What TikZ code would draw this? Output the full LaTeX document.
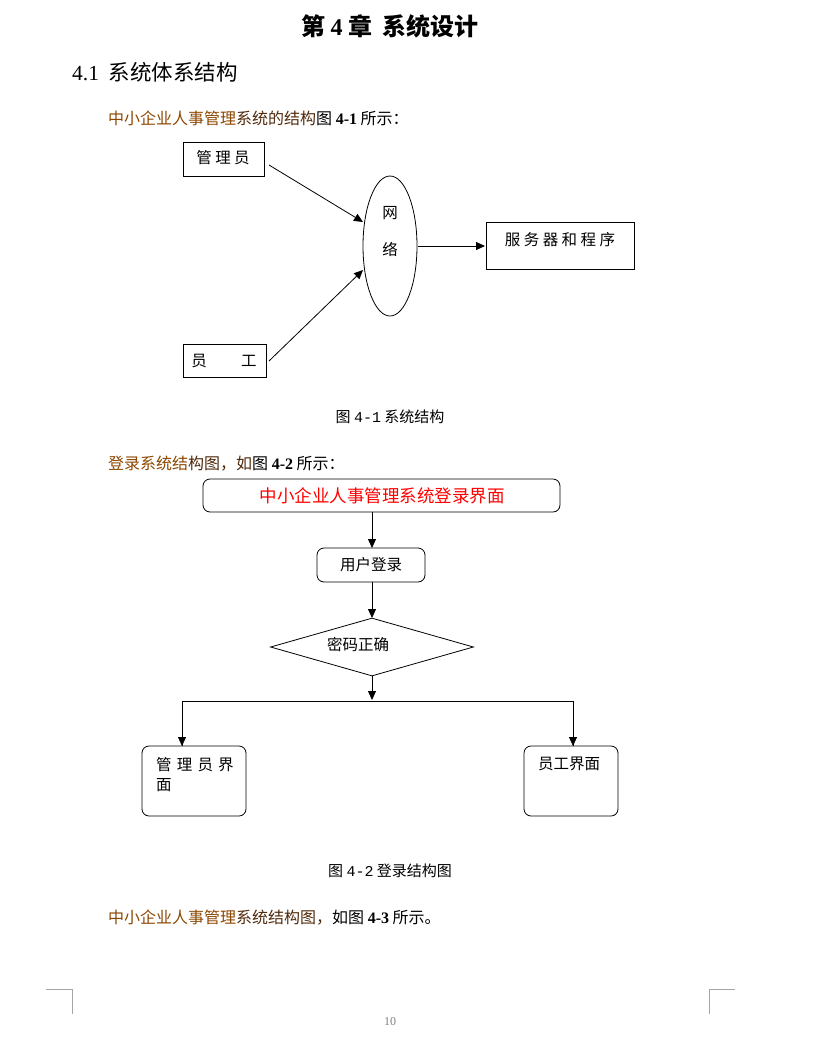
\documentclass[tikz,border=0pt]{standalone}
\usepackage{fontspec}
\setmainfont{Liberation Serif}
\setmonofont{Liberation Mono}
\newfontfamily\cjk{Noto Sans CJK SC}
\usetikzlibrary{shapes.geometric,arrows.meta}
\definecolor{brn}{RGB}{140,70,0}
\definecolor{brn2}{RGB}{80,40,10}
\tikzset{
 rb/.style={draw,line width=0.8pt,rounded corners=7pt,inner sep=0pt},
 ar/.style={-{Triangle[length=9pt,width=8pt]},line width=0.8pt},
 ln/.style={line width=0.8pt},
 txt/.style={inner sep=0pt,font=\cjk\fontsize{15.5}{18}\selectfont},
 para/.style={inner sep=0pt,anchor=west,font=\cjk\fontsize{16}{19}\selectfont},
 figcap/.style={inner sep=0pt,font=\cjk\fontsize{15}{17}\selectfont},
}
\begin{document}
\begin{tikzpicture}[x=1pt,y=-1pt]
\useasboundingbox (0,0) rectangle (829,1050);
\node[inner sep=0pt,font=\cjk\bfseries\fontsize{24}{28}\selectfont] (t) at (390,26) {第 {\rmfamily 4} 章\ \ 系统设计};
\node[inner sep=0pt,anchor=west,font=\cjk\fontsize{21.5}{25}\selectfont] (s) at (72,72) {{\rmfamily 4.1}\ \ 系统体系结构};
\node[para] (p1) at (108,118) {\color{brn}中小企业人事管理{\color{brn2}系统的结构}\color{black}图 {\rmfamily\bfseries 4-1} 所示：};
% fig 4-1
\draw[ln] (183,142) rectangle (264,176);
\node[txt] (gly) at (223,158) {管\ 理\ 员};
\draw[ln] (390,246) ellipse (27 and 70);
\node[txt] at (390,213) {网};
\node[txt] at (390,249) {络};
\draw[ln] (486,222) rectangle (634,269);
\node[txt] (srv) at (560,240) {服\ 务\ 器\ 和\ 程\ 序};
\draw[ln] (183,344) rectangle (266,377);
\node[txt] (yg) at (224,361) {员\qquad\ 工};
\draw[ar] (269,165) -- (363,222);
\draw[ar] (269,361) -- (363,270);
\draw[ar] (418,246) -- (485,246);
\node[figcap] (c1) at (390,417) {图 {\ttfamily 4-1} 系统结构};
% fig 4-2
\node[para] (p2) at (108,464) {\color{brn}登录系统结{\color{brn2}构图，如}\color{black}图 {\rmfamily\bfseries 4-2} 所示：};
\draw[rb] (203,479) rectangle (560,512);
\node[inner sep=0pt,text=red,font=\cjk\fontsize{17.5}{20}\selectfont] (login) at (382,496) {中小企业人事管理系统登录界面};
\draw[rb] (317,548) rectangle (425,582);
\node[txt] (user) at (371,565) {用户登录};
\node[draw,ln,diamond,aspect=3.5,minimum width=203pt,minimum height=58pt,inner sep=0pt] (pw) at (372,647) {};
\node[txt] at (358,645) {密码正确};
\draw[ar] (372,512) -- (372,548);
\draw[ar] (372,582) -- (372,618);
\draw[ar] (372,676) -- (372,700);
\draw[ln] (182,746) -- (182,701) -- (573,701) -- (573,746);
\draw[ar] (182,720) -- (182,746);
\draw[ar] (573,720) -- (573,746);
\draw[rb] (142,746) rectangle (246,816);
\node[txt,anchor=north west,align=left] (adm) at (156,757) {管\,\,理\,\,员\,\,界\\[2pt]面};
\draw[rb] (524,746) rectangle (618,816);
\node[txt,anchor=north west] (emp) at (538,757) {员工界面};
\node[figcap] (c2) at (390,871) {图 {\ttfamily 4-2} 登录结构图};
\node[para] (p3) at (108,918) {\color{brn}中小企业人事管理{\color{brn2}系统结构图，}\color{black}如图 {\rmfamily\bfseries 4-3} 所示。};
\draw[gray!70,line width=0.6pt] (46,989) -- (72,989) -- (72,1014);
\draw[gray!70,line width=0.6pt] (735,989) -- (709,989) -- (709,1014);
\node[inner sep=0pt,text=gray,font=\fontsize{12}{13}\selectfont] (pg) at (390,1022) {10};
\end{tikzpicture}
\end{document}
